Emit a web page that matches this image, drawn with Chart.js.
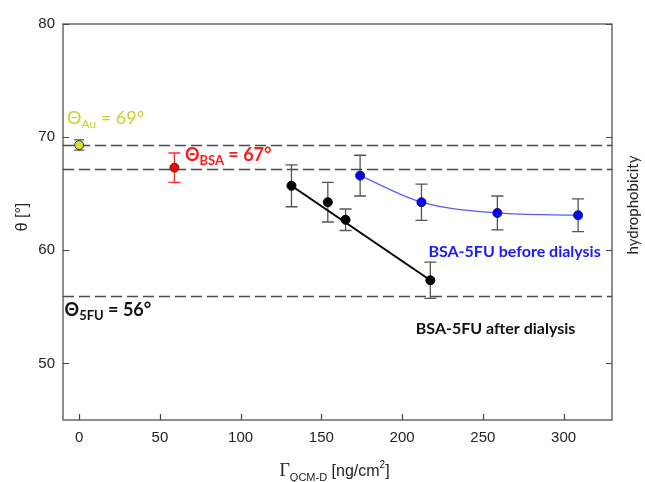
<!DOCTYPE html>
<html>
<head>
<meta charset="utf-8">
<script src="https://cdn.jsdelivr.net/npm/chart.js@4.4.1/dist/chart.umd.min.js"></script>
<style>
  html, body { margin: 0; padding: 0; background: #fff; }
  #wrap { width: 645px; height: 482px; }
</style>
</head>
<body>
<div id="wrap"><canvas id="thetaChart" width="645" height="482"></canvas></div>
<script>
// tick labels
const xTicks = [0, 50, 100, 150, 200, 250, 300];
const yTicks = [50, 60, 70, 80];

// bare gold
const xAu = [0];
const yAu = [69.3];
const errAu = [0.45];

// BSA layer
const xBsa = [59];
const yBsa = [67.3];
const errBsa = [1.3];

// BSA-5FU after dialysis
const xAfter = [131.5, 154, 165, 217.5];
const yAfter = [65.7, 64.25, 62.7, 57.35];
const errAfter = [1.85, 1.75, 0.95, 1.6];

// linear fit through the after-dialysis points
const xAfterFit = [131.5, 217.5];
const yAfterFit = [65.7, 57.35];

// BSA-5FU before dialysis
const xBefore = [174, 212, 259, 309];
const yBefore = [66.6, 64.25, 63.3, 63.1];
const errBefore = [1.8, 1.6, 1.5, 1.45];

// reference contact angles (dashed lines)
const refLines = [69.3, 67.2, 56];

const toPts = (xs, ys) => xs.map((x, i) => ({ x: x, y: ys[i] }));

const errorBars = [
  { xs: xAu, ys: yAu, errs: errAu, color: "#555", cap: 5 },
  { xs: xBsa, ys: yBsa, errs: errBsa, color: "#ff3030", cap: 6 },
  { xs: xAfter, ys: yAfter, errs: errAfter, color: "#555", cap: 6 },
  { xs: xBefore, ys: yBefore, errs: errBefore, color: "#555", cap: 6 },
];

// draws dashed lines, error bars, frame and inward ticks
const backdrop = {
  id: "backdrop",
  beforeDatasetsDraw(chart) {
    const { ctx, chartArea: a, scales } = chart;
    const xs = scales.x, ys = scales.y;
    ctx.save();
    ctx.strokeStyle = "#4a4a4a";
    ctx.lineWidth = 1.3;
    ctx.setLineDash([11, 5]);
    refLines.forEach((v) => {
      const py = Math.round(ys.getPixelForValue(v)) + 0.5;
      ctx.beginPath();
      ctx.moveTo(a.left, py);
      ctx.lineTo(a.right, py);
      ctx.stroke();
    });
    ctx.setLineDash([]);
    errorBars.forEach((s) => {
      ctx.strokeStyle = s.color;
      ctx.lineWidth = 1.3;
      s.xs.forEach((x, i) => {
        const px = xs.getPixelForValue(x);
        const top = ys.getPixelForValue(s.ys[i] + s.errs[i]);
        const bot = ys.getPixelForValue(s.ys[i] - s.errs[i]);
        ctx.beginPath();
        ctx.moveTo(px, top); ctx.lineTo(px, bot);
        ctx.moveTo(px - s.cap, top); ctx.lineTo(px + s.cap, top);
        ctx.moveTo(px - s.cap, bot); ctx.lineTo(px + s.cap, bot);
        ctx.stroke();
      });
    });
    // frame
    ctx.strokeStyle = "#444";
    ctx.lineWidth = 1.2;
    ctx.strokeRect(a.left, a.top, a.right - a.left, a.bottom - a.top);
    // inward ticks
    ctx.beginPath();
    xTicks.forEach((t) => {
      const px = Math.round(xs.getPixelForValue(t)) + 0.5;
      ctx.moveTo(px, a.bottom); ctx.lineTo(px, a.bottom - 6);
    });
    yTicks.forEach((t) => {
      const py = Math.round(ys.getPixelForValue(t)) + 0.5;
      ctx.moveTo(a.left, py); ctx.lineTo(a.left + 6, py);
      ctx.moveTo(a.right, py); ctx.lineTo(a.right - 6, py);
    });
    ctx.stroke();
    ctx.restore();
  },
};

function drawParts(ctx, parts, x, y, align) {
  let w = 0;
  parts.forEach((p) => { ctx.font = p.font; w += ctx.measureText(p.t).width; });
  let cx = align === "right" ? x - w : align === "center" ? x - w / 2 : x;
  parts.forEach((p) => {
    ctx.font = p.font;
    ctx.fillText(p.t, cx, y + (p.dy || 0));
    cx += ctx.measureText(p.t).width;
  });
}

// texts: axis titles and annotations
const labels = {
  id: "labels",
  afterDraw(chart) {
    const { ctx, chartArea: a, scales } = chart;
    const X = (v) => scales.x.getPixelForValue(v);
    const Y = (v) => scales.y.getPixelForValue(v);
    ctx.save();
    ctx.textBaseline = "alphabetic";
    ctx.textAlign = "left";

    ctx.fillStyle = "#cccc33";
    drawParts(ctx, [
      { t: "\u0398", font: "18px Lato" },
      { t: "Au", font: "12px Lato", dy: 4 },
      { t: " = 69\u00b0", font: "18px Lato" },
    ], X(-7.5), Y(71.2));

    ctx.fillStyle = "#ff1a1a";
    drawParts(ctx, [
      { t: "\u0398", font: "bold 18px Lato" },
      { t: "BSA", font: "bold 13px Lato", dy: 4 },
      { t: " = 67\u00b0", font: "bold 18px Lato" },
    ], X(65.5), Y(67.9));

    ctx.fillStyle = "#111";
    drawParts(ctx, [
      { t: "\u0398", font: "bold 18px Lato" },
      { t: "5FU", font: "bold 13px Lato", dy: 4 },
      { t: " = 56\u00b0", font: "bold 18px Lato" },
    ], X(-9), Y(54.2));

    ctx.fillStyle = "#1a1aff";
    drawParts(ctx, [{ t: "BSA-5FU before dialysis", font: "bold 16px Lato" }], X(323), Y(59.4), "right");
    ctx.fillStyle = "#111";
    drawParts(ctx, [{ t: "BSA-5FU after dialysis", font: "bold 16px Lato" }], X(208.5), Y(52.6));

    // x title
    ctx.fillStyle = "#222";
    drawParts(ctx, [
      { t: "\u0393", font: "18px 'Liberation Serif'" },
      { t: "QCM-D", font: "11px 'Liberation Sans'", dy: 5 },
      { t: " [ng/cm", font: "16px 'Liberation Sans'" },
      { t: "2", font: "10px 'Liberation Sans'", dy: -8 },
      { t: "]", font: "16px 'Liberation Sans'" },
    ], (a.left + a.right) / 2 - 3, 476, "center");

    // y title
    ctx.save();
    ctx.translate(27, (a.top + a.bottom) / 2 - 5);
    ctx.rotate(-Math.PI / 2);
    drawParts(ctx, [{ t: "\u03b8 [\u00b0]", font: "16px 'Liberation Sans'" }], 0, 0, "center");
    ctx.restore();

    // right title
    ctx.save();
    ctx.translate(638, (a.top + a.bottom) / 2 - 17);
    ctx.rotate(-Math.PI / 2);
    drawParts(ctx, [{ t: "hydrophobicity", font: "15px Lato" }], 0, 0, "center");
    ctx.restore();
    ctx.restore();
  },
};

const ptStyle = (fill, border) => ({
  showLine: false,
  pointRadius: 4.5,
  pointHoverRadius: 4.5,
  pointBackgroundColor: fill,
  pointBorderColor: border,
  pointBorderWidth: 1,
});

new Chart(document.getElementById("thetaChart"), {
  type: "scatter",
  data: {
    datasets: [
      {
        label: "fit after",
        data: toPts(xAfterFit, yAfterFit),
        showLine: true,
        borderColor: "#000",
        borderWidth: 2,
        pointRadius: 0,
      },
      {
        label: "BSA-5FU before dialysis",
        data: toPts(xBefore, yBefore),
        showLine: true,
        borderColor: "#5a5aff",
        borderWidth: 1.2,
        cubicInterpolationMode: "monotone",
        pointRadius: 4.5,
        pointBackgroundColor: "#0000ff",
        pointBorderColor: "#1a1a66",
        pointBorderWidth: 1,
      },
      Object.assign({ label: "BSA-5FU after dialysis", data: toPts(xAfter, yAfter) }, ptStyle("#000", "#000")),
      Object.assign({ label: "Au", data: toPts(xAu, yAu) }, ptStyle("#dede33", "#333")),
      Object.assign({ label: "BSA", data: toPts(xBsa, yBsa) }, ptStyle("#ff0000", "#333")),
    ],
  },
  options: {
    responsive: false,
    animation: false,
    events: [],
    layout: { padding: { top: 24, left: 0, right: 0, bottom: 0 } },
    plugins: {
      legend: { display: false },
      tooltip: { enabled: false },
    },
    scales: {
      x: {
        type: "linear",
        min: -10,
        max: 330,
        afterBuildTicks: (s) => { s.ticks = xTicks.map((v) => ({ value: v })); },
        afterFit: (s) => { s.height = 62; },
        grid: { display: false, drawTicks: false },
        border: { display: false },
        ticks: { padding: 9, color: "#222", font: { family: "'Liberation Sans'", size: 15 } },
      },
      y: {
        position: "left",
        min: 45,
        max: 80,
        afterBuildTicks: (s) => { s.ticks = yTicks.map((v) => ({ value: v })); },
        afterFit: (s) => { s.width = 63; },
        grid: { display: false, drawTicks: false },
        border: { display: false },
        ticks: { padding: 8, color: "#222", font: { family: "'Liberation Sans'", size: 15 } },
      },
      y2: {
        position: "right",
        min: 45,
        max: 80,
        afterFit: (s) => { s.width = 33; },
        grid: { display: false, drawTicks: false },
        border: { display: false },
        ticks: { display: false },
      },
    },
  },
  plugins: [backdrop, labels],
});
</script>
</body>
</html>
